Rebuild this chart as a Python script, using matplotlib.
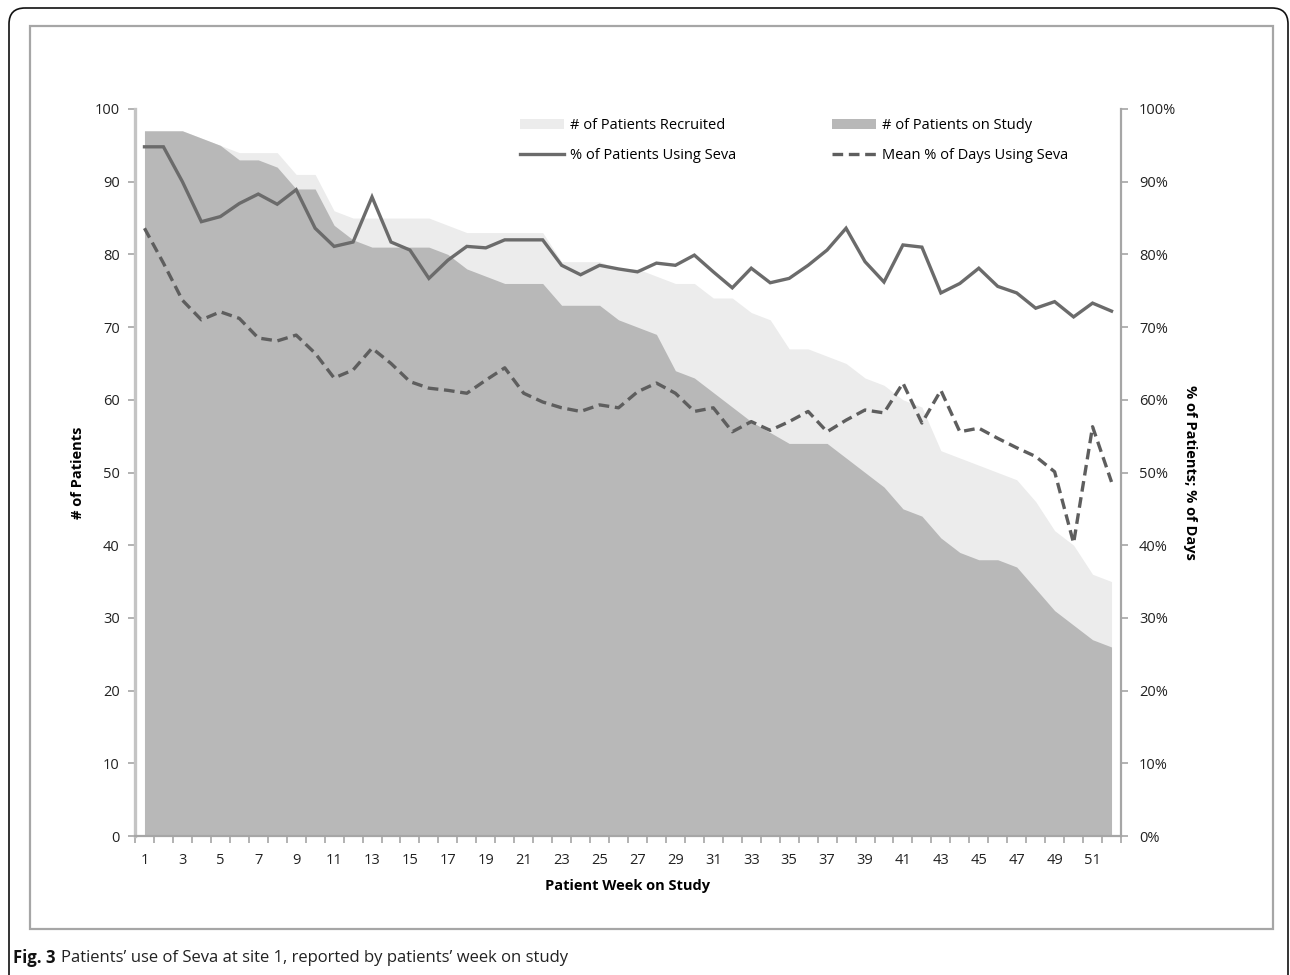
import matplotlib
matplotlib.use("Agg")
import matplotlib.pyplot as plt
from matplotlib.patches import FancyBboxPatch, Rectangle, Patch
from matplotlib.lines import Line2D
import numpy as np

plt.rcParams['font.family'] = ['Open Sans', 'DejaVu Sans']

# Données
weeks = list(range(1, 53))
recruited = [97, 97, 97, 96, 95, 94, 94, 94, 91, 91, 86, 85, 85, 85, 85, 85, 84, 83, 83, 83,
             83, 83, 79, 79, 79, 78, 78, 77, 76, 76, 74, 74, 72, 71, 67, 67, 66, 65, 63, 62,
             60, 59, 53, 52, 51, 50, 49, 46, 42, 40, 36, 35]
on_study = [97, 97, 97, 96, 95, 93, 93, 92, 89, 89, 84, 82, 81, 81, 81, 81, 80, 78, 77, 76,
            76, 76, 73, 73, 73, 71, 70, 69, 64, 63, 61, 59, 57, 55.5, 54, 54, 54, 52, 50, 48,
            45, 44, 41, 39, 38, 38, 37, 34, 31, 29, 27, 26]
pct_using = [94.8, 94.8, 90, 84.5, 85.2, 87, 88.3, 86.9, 88.9, 83.6, 81.1, 81.7, 87.9, 81.7,
             80.6, 76.7, 79.2, 81.1, 80.9, 82, 82, 82, 78.5, 77.2, 78.5, 78, 77.6, 78.8, 78.5,
             79.9, 77.6, 75.4, 78.1, 76.1, 76.7, 78.5, 80.6, 83.6, 79, 76.2, 81.3, 81, 74.7,
             76, 78.1, 75.6, 74.7, 72.6, 73.5, 71.4, 73.3, 72.2]
mean_days = [83.6, 78.8, 73.7, 71.0, 72.1, 71.2, 68.5, 68.1, 68.9, 66.4, 63.0, 64.1, 67.1, 65.0,
             62.5, 61.6, 61.3, 60.9, 62.7, 64.4, 60.9, 59.7, 58.9, 58.4, 59.3, 58.9, 61.1, 62.3,
             60.9, 58.4, 58.9, 55.6, 57.0, 55.8, 57.0, 58.4, 55.6, 57.2, 58.6, 58.2, 62.3, 56.8,
             61.3, 55.6, 56.1, 54.7, 53.4, 52.2, 50.1, 40.3, 56.3, 48.7]
left_ticks = list(range(0, 101, 10))
right_labels = [f"{v}%" for v in left_ticks]
week_labels = list(range(1, 52, 2))

LIGHT = '#ececec'
DARK = '#b8b8b8'
LINE = '#6b6b6b'
DASH = '#5e5e5e'
AXIS = '#a6a6a6'

fig = plt.figure(figsize=(12.9, 9.75), dpi=100)

# Cadres (coordonnées en pixels)
bg = fig.add_axes([0, 0, 1, 1], zorder=-5)
bg.set_xlim(0, 1290)
bg.set_ylim(975, 0)
bg.axis('off')
bg.add_patch(FancyBboxPatch((9, 8), 1279, 988, boxstyle='round,pad=0,rounding_size=16',
                            fill=False, edgecolor='#111111', linewidth=1.2))
bg.add_patch(Rectangle((30, 26), 1243, 903, fill=False, edgecolor=AXIS, linewidth=1.6))

ax = fig.add_axes([135 / 1290, 1 - 836 / 975, (1121 - 135) / 1290, (836 - 109) / 975])
ax.fill_between(weeks, 0, recruited, color=LIGHT, linewidth=0)
ax.fill_between(weeks, 0, on_study, color=DARK, linewidth=0)
ax.set_xlim(0.5, 52.5)
ax.set_ylim(0, 100)
ax.set_yticks(left_ticks)
ax.set_xticks(week_labels)
ax.set_xticks(np.arange(0.5, 53, 1), minor=True)
ax.tick_params(axis='x', which='major', length=0, pad=12, labelsize=10.5, labelcolor='#222222')
ax.tick_params(axis='x', which='minor', length=5, width=1.2, color=AXIS, direction='out')
ax.tick_params(axis='y', length=5, width=1.2, color=AXIS, labelsize=10.5,
               labelcolor='#222222', pad=6)
for s in ['top', 'right']:
    ax.spines[s].set_visible(False)
ax.spines['left'].set_color('#c4c4c4')
ax.spines['left'].set_linewidth(2.4)
ax.spines['bottom'].set_color(AXIS)
ax.spines['bottom'].set_linewidth(1.6)
ax.set_ylabel('# of Patients', fontsize=10.5, fontweight='bold', labelpad=7)
ax.set_xlabel('Patient Week on Study', fontsize=10.5, fontweight='bold', labelpad=8)

ax2 = ax.twinx()
ax2.plot(weeks, pct_using, color=LINE, linewidth=2.4, solid_joinstyle='miter')
ax2.plot(weeks, mean_days, color=DASH, linewidth=2.4, linestyle=(0, (3.2, 1.7)))
ax2.set_ylim(0, 100)
ax2.set_yticks(left_ticks)
ax2.set_yticklabels(right_labels)
ax2.tick_params(axis='y', length=5, width=1.2, color=AXIS, labelsize=10.5,
                labelcolor='#222222', pad=8)
for s in ['top', 'left', 'bottom']:
    ax2.spines[s].set_visible(False)
ax2.spines['right'].set_color(AXIS)
ax2.spines['right'].set_linewidth(1.6)
ax2.set_ylabel('% of Patients; % of Days', fontsize=10.5, fontweight='bold',
               rotation=270, labelpad=15)

handles = [Patch(facecolor=LIGHT, edgecolor='none'),
           Line2D([], [], color=LINE, linewidth=2.4),
           Patch(facecolor=DARK, edgecolor='none'),
           Line2D([], [], color=DASH, linewidth=2.4, linestyle=(0, (3.2, 1.7)))]
labels = ['# of Patients Recruited', '% of Patients Using Seva',
          '# of Patients on Study', 'Mean % of Days Using Seva']
fig.legend(handles, labels, ncol=2, loc='upper left',
           bbox_to_anchor=(520 / 1290, 1 - 118 / 975), frameon=False, fontsize=10.5,
           handlelength=3.0, handleheight=0.75, handletextpad=0.4, columnspacing=6.6,
           labelspacing=1.05, borderpad=0, borderaxespad=0)

# Légende de la figure
r = fig.canvas.get_renderer()
t1 = fig.text(13 / 1290, 1 - 958 / 975, 'Fig. 3', fontsize=12, fontweight='bold',
              va='center', ha='left', color='#111111')
w = t1.get_window_extent(renderer=r).width
fig.text((13 + w + 5) / 1290, 1 - 958 / 975,
         "Patients\u2019 use of Seva at site 1, reported by patients\u2019 week on study",
         fontsize=12, va='center', ha='left', color='#222222')

fig.savefig('out.png', dpi=100)
